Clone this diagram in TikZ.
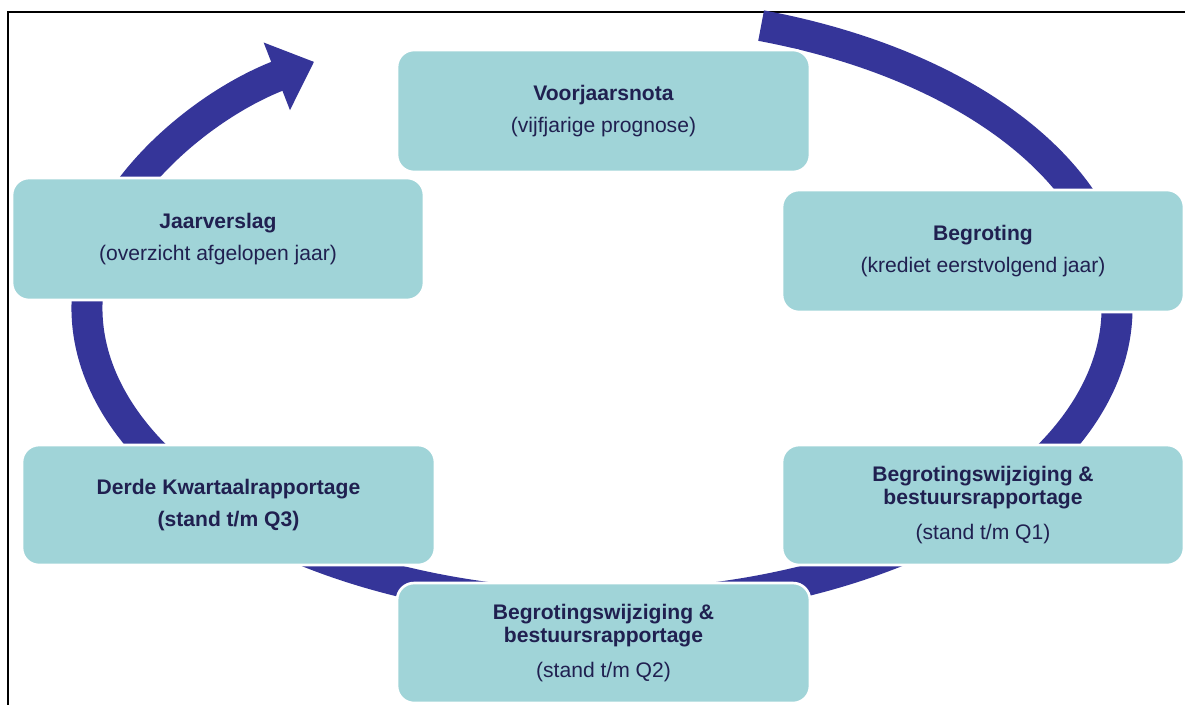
\documentclass[tikz,border=0pt]{standalone}
\usepackage{fontspec}
\setmainfont{Liberation Sans}
\usetikzlibrary{arrows.meta,positioning}

\definecolor{ringblue}{RGB}{53,53,153}
\definecolor{boxteal}{RGB}{160,212,216}
\definecolor{textnavy}{RGB}{32,32,80}

\begin{document}
\begin{tikzpicture}
      [
        x=0.02cm, y=-0.02cm,
        cyclearrow/.style={draw=ringblue, line width=0.62cm, -{Triangle[length=0.8cm,width=1.4cm]}},
        stagebox/.style={draw=white, line width=1.5pt, fill=boxteal, rounded corners=0.34cm,
          inner sep=0pt, minimum height=2.44cm, align=center, text=textnavy,
          font=\fontsize{12}{13.6}\selectfont},
        frameline/.style={draw=black, line width=1.2pt}
      ]

      \useasboundingbox (0,0) rectangle (1185,704);
      \clip (0,0) rectangle (1185,704);
      \fill[white] (0,0) rectangle (1185,704);
      \draw[frameline] (8,730) |- (1210,12);

      \coordinate (c) at (602,308);
      \draw[cyclearrow] (c) ++(72:10.3cm and 5.94cm)
        arc[start angle=72, end angle=-236, x radius=10.3cm, y radius=5.94cm];

      \node[stagebox, minimum width=8.26cm] (voorjaar) at (603.5,111)
        {\textbf{Voorjaarsnota}\\[4.9pt](vijfjarige prognose)};
      \node[stagebox, minimum width=8.04cm] (begroting) at (983,251)
        {\textbf{Begroting}\\[4.9pt](krediet eerstvolgend jaar)};
      \node[stagebox, minimum width=8.04cm, minimum height=2.4cm] (wijzq1) at (983,505)
        {\textbf{Begrotingswijziging \&}\\\textbf{bestuursrapportage}\\[6.3pt](stand t/m Q1)};
      \node[stagebox, minimum width=8.26cm, minimum height=2.4cm] (wijzq2) at (603.5,643)
        {\textbf{Begrotingswijziging \&}\\\textbf{bestuursrapportage}\\[6.3pt](stand t/m Q2)};
      \node[stagebox, minimum width=8.26cm, minimum height=2.4cm] (derde) at (228.5,505)
        {\textbf{Derde Kwartaalrapportage}\\[4.9pt]\textbf{(stand t/m Q3)}};
      \node[stagebox, minimum width=8.24cm] (jaar) at (218,239)
        {\textbf{Jaarverslag}\\[4.9pt](overzicht afgelopen jaar)};

    \end{tikzpicture}
\end{document}
